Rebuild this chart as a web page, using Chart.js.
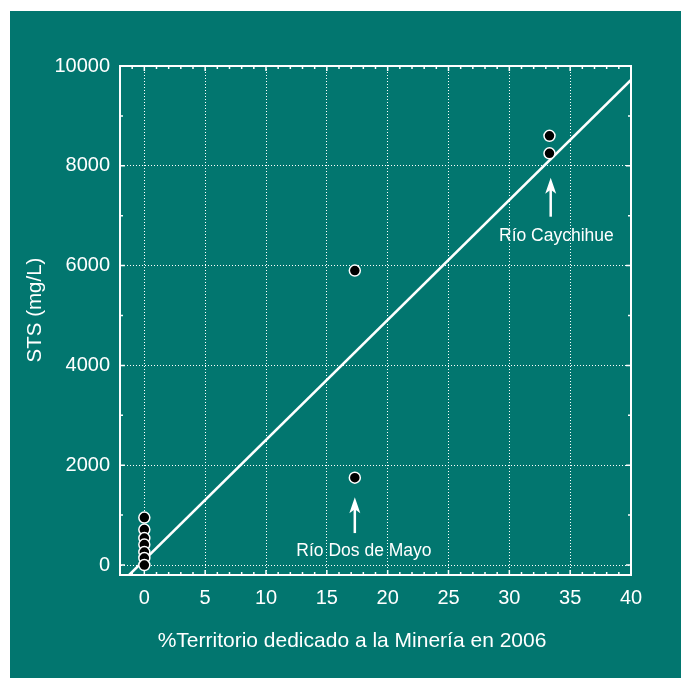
<!DOCTYPE html>
<html>
<head>
<meta charset="utf-8">
<script src="https://cdn.jsdelivr.net/npm/chart.js@4.4.0/dist/chart.umd.min.js"></script>
<style>
  html, body { margin: 0; padding: 0; background: #ffffff; }
  #marco { position: absolute; left: 10px; top: 11px; width: 671px; height: 667px; background: #02766f; }
</style>
</head>
<body>
<div id="marco"><canvas id="grafico" width="671" height="667"></canvas></div>
<script>
// datos
var puntosX = [0, 0, 0, 0, 0, 0, 0, 17.3, 17.3, 33.3, 33.3];
var puntosY = [950, 710, 540, 410, 260, 140, 0, 5900, 1750, 8600, 8250];

// recta de ajuste (extremos)
var rectaX = [-1.25, 40];
var rectaY = [-200, 9720];

var ticksX = [0, 5, 10, 15, 20, 25, 30, 35, 40];
var ticksY = [0, 2000, 4000, 6000, 8000, 10000];

var tituloX = '%Territorio dedicado a la Minería en 2006';
var tituloY = 'STS (mg/L)';

// notas con flecha: x, inicio y fin de la flecha, texto
var notas = [
    { x: 17.3, desde: 640, hasta: 1360, texto: 'Río Dos de Mayo', tx: 18.05, ty: 280 },
    { x: 33.4, desde: 6980, hasta: 7760, texto: 'Río Caychihue', tx: 33.87, ty: 6590 }
];

var fuente = 'Liberation Sans, Arial, sans-serif';
var blanco = '#ffffff';

var puntos = puntosX.map(function(x, i) { return { x: x, y: puntosY[i] }; });
var recta = rectaX.map(function(x, i) { return { x: x, y: rectaY[i] }; });

var extras = {
    id: 'extras',
    afterDraw: function(chart) {
        var ctx = chart.ctx;
        var a = chart.chartArea;
        var sx = chart.scales.x, sy = chart.scales.y;
        ctx.save();
        // marco
        ctx.strokeStyle = blanco;
        ctx.lineWidth = 2;
        ctx.strokeRect(a.left, a.top, a.right - a.left, a.bottom - a.top);
        // marcas menores
        ctx.lineWidth = 1.5;
        ctx.beginPath();
        for (var v = -2; v <= 40; v++) {
            var px = sx.getPixelForValue(v);
            var largo = (v % 5 === 0) ? 5 : 3;
            ctx.moveTo(px, a.bottom); ctx.lineTo(px, a.bottom - largo);
            ctx.moveTo(px, a.top); ctx.lineTo(px, a.top + largo);
        }
        for (var w = 0; w <= 10000; w += 1000) {
            var py = sy.getPixelForValue(w);
            var l2 = (w % 2000 === 0) ? 5 : 3;
            ctx.moveTo(a.left, py); ctx.lineTo(a.left + l2, py);
            ctx.moveTo(a.right, py); ctx.lineTo(a.right - l2, py);
        }
        ctx.stroke();
        // flechas y textos
        ctx.fillStyle = blanco;
        ctx.font = '17.5px ' + fuente;
        ctx.textAlign = 'center';
        ctx.textBaseline = 'middle';
        notas.forEach(function(n) {
            var x = sx.getPixelForValue(n.x);
            var y0 = sy.getPixelForValue(n.desde);
            var y1 = sy.getPixelForValue(n.hasta);
            ctx.lineWidth = 2.5;
            ctx.beginPath();
            ctx.moveTo(x, y0); ctx.lineTo(x, y1 + 10);
            ctx.stroke();
            ctx.beginPath();
            ctx.moveTo(x, y1);
            ctx.lineTo(x + 5.5, y1 + 16);
            ctx.lineTo(x, y1 + 12);
            ctx.lineTo(x - 5.5, y1 + 16);
            ctx.closePath();
            ctx.fill();
            ctx.fillText(n.texto, sx.getPixelForValue(n.tx), sy.getPixelForValue(n.ty));
        });
        // titulos de ejes
        ctx.font = '21px ' + fuente;
        ctx.fillText(tituloX, 342, 630);
        ctx.font = '20.5px ' + fuente;
        ctx.translate(25, 299);
        ctx.rotate(-Math.PI / 2);
        ctx.fillText(tituloY, 0, 0);
        ctx.restore();
    }
};

var ctx = document.getElementById('grafico').getContext('2d');
new Chart(ctx, {
    type: 'scatter',
    data: {
        datasets: [{
            type: 'line',
            data: recta,
            borderColor: blanco,
            borderWidth: 2.5,
            pointRadius: 0,
            fill: false,
            order: 2
        }, {
            data: puntos,
            backgroundColor: '#000000',
            borderColor: blanco,
            borderWidth: 1.5,
            pointRadius: 5.5,
            order: 1
        }]
    },
    options: {
        responsive: false,
        animation: false,
        layout: { padding: { left: 0, top: 55, right: 50, bottom: 0 } },
        plugins: { legend: { display: false }, tooltip: { enabled: false } },
        scales: {
            x: {
                type: 'linear',
                min: -2,
                max: 40,
                afterBuildTicks: function(scale) {
                    scale.ticks = ticksX.map(function(v) { return { value: v }; });
                },
                afterFit: function(scale) { scale.height = 103; },
                grid: { color: blanco, lineWidth: 1, drawTicks: false },
                border: { display: true, color: blanco, width: 2, dash: [1, 2] },
                ticks: { color: blanco, font: { family: fuente, size: 20 }, padding: 11, maxRotation: 0,
                    callback: function(v) { return String(v); } }
            },
            y: {
                type: 'linear',
                min: -200,
                max: 10000,
                afterBuildTicks: function(scale) {
                    scale.ticks = ticksY.map(function(v) { return { value: v }; });
                },
                afterFit: function(scale) { scale.width = 110; },
                grid: { color: blanco, lineWidth: 1, drawTicks: false },
                border: { display: true, color: blanco, width: 2, dash: [1, 2] },
                ticks: { color: blanco, font: { family: fuente, size: 20 }, padding: 10,
                    callback: function(v) { return String(v); } }
            }
        }
    },
    plugins: [extras]
});
</script>
</body>
</html>
